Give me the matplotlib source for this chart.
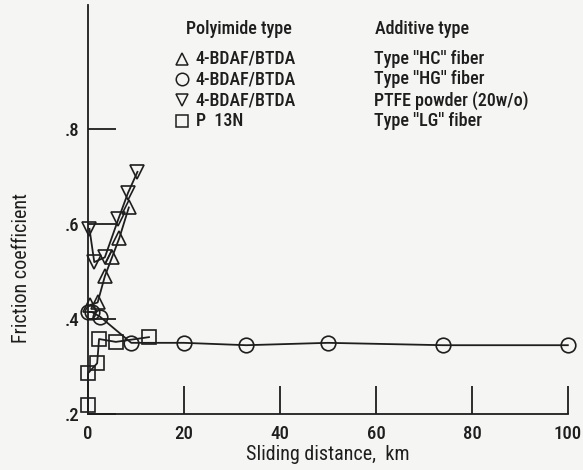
import matplotlib
matplotlib.use("Agg")
import matplotlib.pyplot as plt

plt.rcParams['font.family'] = ['Roboto Condensed', 'DejaVu Sans']
plt.rcParams['font.weight'] = 'medium'

# Data
hc_km = [0.5, 2.0, 3.5, 5.0, 6.5, 8.5]
hc_mu = [0.43, 0.435, 0.49, 0.53, 0.57, 0.635]

hg_km = [0.0, 0.8, 2.5, 9.0, 20.0, 33.0, 50.0, 74.0, 100.0]
hg_mu = [0.415, 0.415, 0.405, 0.35, 0.35, 0.345, 0.35, 0.345, 0.345]

ptfe_km = [0.3, 1.3, 3.5, 6.3, 8.3, 10.3]
ptfe_mu = [0.59, 0.52, 0.53, 0.61, 0.665, 0.71]

lg_km = [0.0, 0.0, 1.9, 2.3, 5.8, 12.7]
lg_mu = [0.219, 0.286, 0.307, 0.358, 0.352, 0.362]

x_ticks = [0, 20, 40, 60, 80, 100]
x_ticklabels = ['0', '20', '40', '60', '80', '100']
y_ticks = [0.2, 0.4, 0.6, 0.8]
y_ticklabels = ['.2', '.4', '.6', '.8']

poly_types = ['4-BDAF/BTDA', '4-BDAF/BTDA', '4-BDAF/BTDA', 'P  13N']
additive_types = ["Type ''HC'' fiber", "Type ''HG'' fiber", 'PTFE powder (20w/o)', "Type ''LG'' fiber"]
markers = ['^', 'o', 'v', 's']

ink = '#1e1e1e'
bg = '#f5f5f3'

fig = plt.figure(figsize=(5.83, 4.70), dpi=100, facecolor=bg)
ax = fig.add_axes([0.151, 0.119, 0.823, 0.870], facecolor=bg)

series = [(hc_km, hc_mu), (hg_km, hg_mu), (ptfe_km, ptfe_mu), (lg_km, lg_mu)]
for (xs, ys), m in zip(series, markers):
    ms = 9.5 if m == 's' else 10.5
    ax.plot(xs, ys, color=ink, lw=1.3, marker=m, ms=ms, mfc='none',
            mec=ink, mew=1.2, clip_on=False, zorder=3)

ax.set_xlim(0, 100)
ax.set_ylim(0.2, 1.061)
ax.spines['top'].set_visible(False)
ax.spines['right'].set_visible(False)
for s in ['left', 'bottom']:
    ax.spines[s].set_color(ink)
    ax.spines[s].set_linewidth(1.3)

ax.set_xticks(x_ticks)
ax.set_xticklabels(x_ticklabels)
ax.set_yticks(y_ticks)
ax.set_yticklabels(y_ticklabels)
ax.tick_params(axis='both', direction='in', length=20, width=1.3, color=ink,
               labelsize=13.5, labelcolor=ink)
ax.tick_params(axis='x', pad=8)
ax.tick_params(axis='y', pad=6)

ax.set_xlabel('Sliding distance,  km', fontsize=14.5, color=ink, labelpad=1)
ax.set_ylabel('Friction coefficient', fontsize=14.5, color=ink)
ax.yaxis.set_label_coords(-0.119, 0.357)

# Legend block
ax.text(0.204, 0.941, 'Polyimide type', transform=ax.transAxes, fontsize=13,
        color=ink, va='center', ha='left')
ax.text(0.598, 0.941, 'Additive type', transform=ax.transAxes, fontsize=13,
        color=ink, va='center', ha='left')
row0 = 0.869
dy = 0.0505
for i, (m, p, a) in enumerate(zip(markers, poly_types, additive_types)):
    yy = row0 - i * dy
    ax.plot([0.196], [yy], marker=m, ms=9 if m != 's' else 8.5, mfc='none',
            mec=ink, mew=1.1, transform=ax.transAxes, clip_on=False)
    ax.text(0.225, yy, p, transform=ax.transAxes, fontsize=13, color=ink,
            va='center', ha='left')
    ax.text(0.596, yy, a, transform=ax.transAxes, fontsize=13, color=ink,
            va='center', ha='left')

fig.savefig('out.png', dpi=100, facecolor=bg)
